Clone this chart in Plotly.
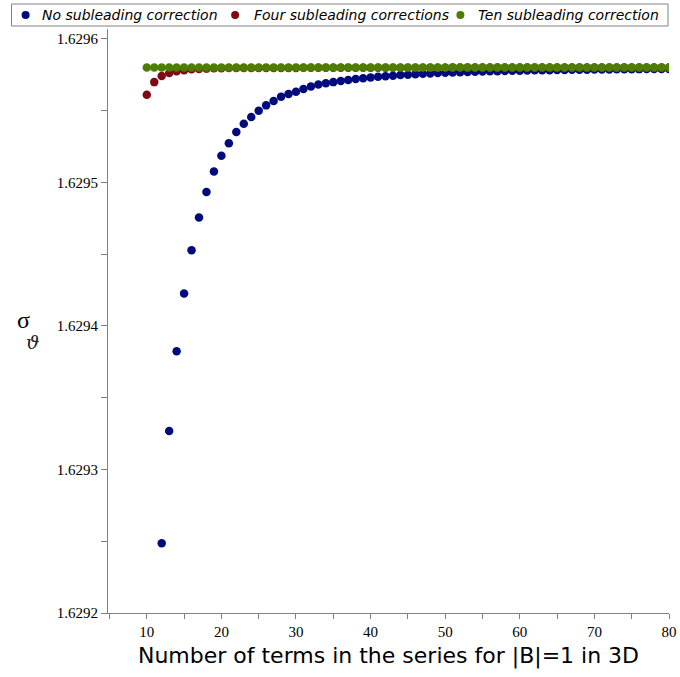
import plotly.graph_objects as go

# ---- data ----
n_blue = list(range(12, 81))
blue_vals = [
    1.6292486, 1.6293267, 1.6293823, 1.6294225, 1.6294527, 1.6294755, 1.6294932,
    1.6295075, 1.6295185, 1.6295273, 1.6295350, 1.6295408, 1.6295455, 1.6295499,
    1.6295536, 1.6295566, 1.6295596, 1.6295615, 1.6295631, 1.6295650, 1.6295668,
    1.6295682, 1.6295690, 1.6295698, 1.6295706, 1.6295713, 1.6295719, 1.6295725,
    1.6295730, 1.6295735, 1.6295739, 1.6295743, 1.6295747, 1.6295750, 1.6295753,
    1.6295756, 1.6295758, 1.6295761, 1.6295763, 1.6295765, 1.6295767, 1.6295769,
    1.6295770, 1.6295772, 1.6295773, 1.6295774, 1.6295776, 1.6295777, 1.6295778,
    1.6295779, 1.6295780, 1.6295781, 1.62957815, 1.6295782, 1.6295783, 1.6295784,
    1.62957845, 1.6295785, 1.62957855, 1.6295786, 1.62957865, 1.6295787, 1.62957875,
    1.6295788, 1.62957885, 1.6295789, 1.62957895, 1.6295790, 1.6295790,
]
n_red = list(range(10, 81))
red_vals = [
    1.6295610, 1.6295698, 1.6295740, 1.6295762, 1.6295774, 1.6295780, 1.6295787,
    1.6295790, 1.6295792, 1.6295794, 1.6295795,
] + [1.6295797] * 10 + [1.6295798] * 20 + [1.6295799] * 30
n_green = list(range(10, 81))
green_vals = [1.6295800] * 71

series_names = ["No subleading correction", "Four subleading corrections",
                "Ten subleading correction"]
y_ticks = [1.6292, 1.6293, 1.6294, 1.6295, 1.6296]
x_ticks = [10, 20, 30, 40, 50, 60, 70, 80]

colors = ["#000C7E", "#7E0A14", "#4E7E00"]

W, H = 680, 677
ML, MR, MT, MB = 108, 11, 29, 64
PW, PH = W - ML - MR, H - MT - MB


def px_x(p):
    return (p - ML) / PW


def px_y(p):
    return (H - MB - p) / PH


fig = go.Figure()
for xs, ys, name, c in zip([n_blue, n_red, n_green], [blue_vals, red_vals, green_vals],
                           series_names, colors):
    fig.add_trace(go.Scatter(x=xs, y=ys, mode="markers", name=name,
                             marker=dict(color=c, size=8.5, line=dict(width=0))))

axis_common = dict(showline=True, linecolor="#808080", linewidth=1, ticks="outside",
                   tickcolor="#808080", showgrid=False, zeroline=False,
                   tickfont=dict(family="Liberation Serif", size=15, color="black"))

fig.update_xaxes(range=[4.8, 80], tickvals=x_ticks, ticklen=5,
                 minor=dict(dtick=5, tick0=0, ticks="outside", ticklen=5, tickcolor="#808080"),
                 title=dict(text="Number of terms in the series for |B|=1 in 3D",
                            font=dict(family="DejaVu Sans", size=22, color="black"),
                            standoff=8),
                 **axis_common)
fig.update_yaxes(range=[1.6292, 1.6296068], tickvals=y_ticks, tickformat=".4f", ticklen=6,
                 minor=dict(dtick=0.00005, tick0=1.6292, ticks="outside", ticklen=6,
                            tickcolor="#808080"),
                 **axis_common)

# y-axis title: sigma with script subscript
fig.add_annotation(text="σ", xref="paper", yref="paper", x=px_x(23), y=px_y(320),
                   showarrow=False, xanchor="center", yanchor="middle",
                   font=dict(family="Liberation Serif", size=24, color="black"))
fig.add_annotation(text="ϑ", xref="paper", yref="paper", x=px_x(33), y=px_y(342),
                   showarrow=False, xanchor="center", yanchor="middle",
                   font=dict(family="DejaVu Serif", size=19, color="#222222", style="italic"))

# legend drawn by hand (single row box at the top)
fig.add_shape(type="rect", xref="paper", yref="paper",
              x0=px_x(11.5), x1=px_x(668), y0=px_y(26), y1=px_y(4),
              line=dict(color="#808080", width=1), fillcolor="white", layer="above")
leg_dot_x = [25.6, 235.1, 460.4]
leg_text_x = [40.3, 251.5, 475.6]
leg_y = 15
for name, c, dx, tx in zip(series_names, colors, leg_dot_x, leg_text_x):
    fig.add_shape(type="circle", xref="paper", yref="paper",
                  xsizemode="pixel", ysizemode="pixel",
                  xanchor=px_x(dx), yanchor=px_y(leg_y),
                  x0=-4, x1=4, y0=-4, y1=4,
                  line=dict(width=0), fillcolor=c, layer="above")
    fig.add_annotation(text=name, xref="paper", yref="paper", x=px_x(tx), y=px_y(leg_y),
                       showarrow=False, xanchor="left", yanchor="middle",
                       font=dict(family="DejaVu Sans", size=14, color="black",
                                 style="italic"))

fig.update_layout(
    width=W, height=H,
    margin=dict(l=ML, r=MR, t=MT, b=MB, autoexpand=False),
    plot_bgcolor="white", paper_bgcolor="white",
    showlegend=False,
)

fig.write_html("out.html")
